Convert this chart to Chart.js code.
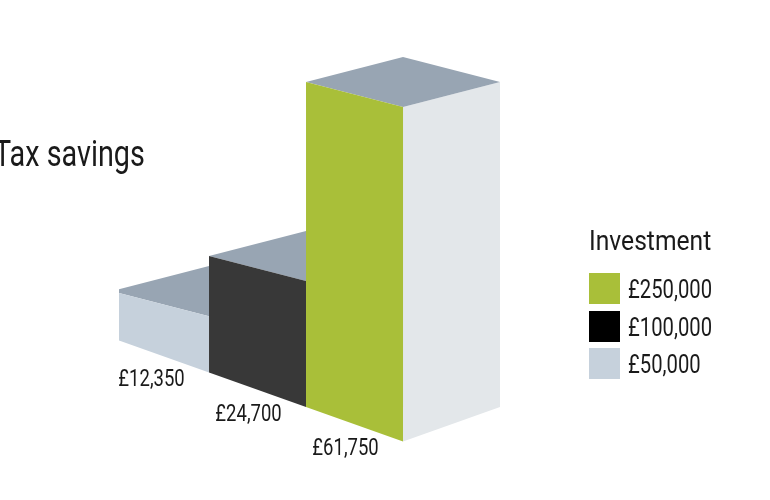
<!DOCTYPE html>
<html>
<head>
<meta charset="utf-8">
<title>Tax savings</title>
<script src="https://cdn.jsdelivr.net/npm/chart.js@4"></script>
<style>
    html, body { margin: 0; padding: 0; background: #fff; overflow: hidden; }
    #wrap { position: relative; width: 770px; height: 500px; font-family: Roboto, sans-serif; color: #1a1a1a; }
    #myChart { position: absolute; left: 0; top: 0; }
    .squeeze { position: absolute; white-space: nowrap; transform-origin: left top; transform: scaleX(0.81); }
    #title { left: -6px; top: 133px; font-size: 36px; line-height: 42px; transform: scaleX(0.8); }
    #legendTitle { left: 589px; top: 224px; font-size: 28px; line-height: 33px; transform: scaleX(0.88); }
    .swatch { position: absolute; left: 589px; width: 31px; height: 31px; }
    .legend-text { left: 628px; margin-top: 1px; font-size: 25px; line-height: 31px; }
</style>
</head>
<body>
<div id="wrap">
    <canvas id="myChart" width="770" height="500"></canvas>
    <div id="title" class="squeeze">Tax savings</div>
    <div id="legendTitle" class="squeeze">Investment</div>
    <div id="legend"></div>
</div>
<script>
const investments = ["£50,000", "£100,000", "£250,000"];
const taxSavings = [12350, 24700, 61750];
const axisFloor = 4000;
const axisTop = 61750;
const frontColors = ["#c6d1dc", "#383838", "#a9bf39"];
const legendColors = ["#c6d1dc", "#000000", "#a9bf39"];
const topColor = "#98a5b3";
const sideColor = "#e3e7ea";

// slopes of the isometric look, px down per px across
const groundSlope = 0.355;
const topSlope = 0.258;

function poly(ctx, color, pts) {
    ctx.fillStyle = color;
    ctx.beginPath();
    pts.forEach((p, i) => (i ? ctx.lineTo(p[0], p[1]) : ctx.moveTo(p[0], p[1])));
    ctx.closePath();
    ctx.fill();
}

const isoBars = {
    id: "isoBars",
    // the plugin paints the bars, so skip the flat default rectangles
    beforeDatasetDraw() {
        return false;
    },
    afterDatasetsDraw(chart) {
        const ctx = chart.ctx;
        const bars = chart.getDatasetMeta(0).data;
        const last = bars[bars.length - 1];
        const originX = last.x - last.width / 2;
        const ground = (x, base) => base + groundSlope * (x - originX);

        ctx.save();
        ctx.beginPath();
        ctx.rect(chart.chartArea.left, 0, chart.width, chart.height);
        ctx.clip();
        bars.forEach((bar, i) => {
            const w = bar.width;
            const left = bar.x - w / 2;
            const right = left + w;
            const botL = ground(left, bar.base);
            const botR = ground(right, bar.base);
            const topL = botL - (bar.base - bar.y);
            const topR = topL + topSlope * w;
            const rise = topSlope * w;

            poly(ctx, sideColor, [[right, topR], [right + w, topL], [right + w, botR - groundSlope * w], [right, botR]]);
            poly(ctx, topColor, [[left, topL], [right, topL - rise], [right + w, topL], [right, topR]]);
            poly(ctx, frontColors[i], [[left, topL], [right, topR], [right, botR], [left, botL]]);
        });
        ctx.restore();

        // value labels under the front edge of each bar
        ctx.save();
        ctx.fillStyle = "#1a1a1a";
        ctx.font = "24px Roboto";
        ctx.textAlign = "center";
        ctx.textBaseline = "middle";
        bars.forEach((bar, i) => {
            ctx.save();
            ctx.translate(bar.x - 9, ground(bar.x, bar.base) + 25);
            ctx.scale(0.77, 1);
            ctx.fillText("£" + taxSavings[i].toLocaleString("en-GB"), 0, 0);
            ctx.restore();
        });
        ctx.restore();
    }
};

new Chart(document.getElementById("myChart"), {
    type: "bar",
    data: {
        datasets: [{
            label: "Tax savings",
            data: taxSavings.map((v, i) => ({ x: i, y: v })),
            backgroundColor: frontColors,
            barThickness: 97,
            base: axisFloor
        }]
    },
    options: {
        responsive: false,
        animation: false,
        layout: { padding: { left: 119, right: 185, top: 82, bottom: 93 } },
        plugins: { legend: { display: false }, tooltip: { enabled: false } },
        scales: {
            // left edge of the first bar is cut off by the area, as in the picture
            x: { type: "linear", display: false, offset: false, min: -0.428, max: 4.376 },
            y: { display: false, min: axisFloor, max: axisTop }
        }
    },
    plugins: [isoBars]
});

// legend, biggest investment first
const legendEl = document.getElementById("legend");
for (let i = investments.length - 1, row = 0; i >= 0; i--, row++) {
    const top = 273 + row * 37.5;
    const swatch = document.createElement("div");
    swatch.className = "swatch";
    swatch.style.top = top + "px";
    swatch.style.background = legendColors[i];
    legendEl.appendChild(swatch);
    const text = document.createElement("div");
    text.className = "squeeze legend-text";
    text.style.top = top + "px";
    text.textContent = investments[i];
    legendEl.appendChild(text);
}
</script>
</body>
</html>
